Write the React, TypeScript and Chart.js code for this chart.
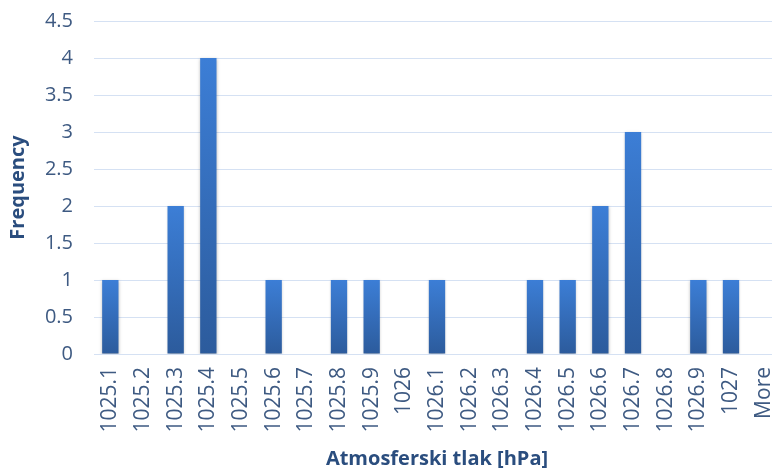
import React, { useEffect, useRef } from "react";
import { Chart, registerables } from "chart.js";

Chart.register(...registerables);

const categories = [
  "1025.1", "1025.2", "1025.3", "1025.4", "1025.5", "1025.6", "1025.7",
  "1025.8", "1025.9", "1026", "1026.1", "1026.2", "1026.3", "1026.4",
  "1026.5", "1026.6", "1026.7", "1026.8", "1026.9", "1027", "More",
];
const frequency = [1, 0, 2, 4, 0, 1, 0, 1, 1, 0, 1, 0, 0, 1, 1, 2, 3, 0, 1, 1, 0];
const yMax = 4.5;
const yStep = 0.5;
const xTitle = "Atmosferski tlak [hPa]";
const yTitle = "Frequency";

const TICK_COLOR = "#3e5a82";
const TITLE_COLOR = "#2a4d7e";
const FONT = "'Open Sans', 'Liberation Sans', sans-serif";

export default function App() {
  const ref = useRef<HTMLCanvasElement>(null);

  useEffect(() => {
    const canvas = ref.current!;
    const shadowPlugin = {
      id: "barShadow",
      beforeDatasetsDraw(chart: any) {
        const ctx = chart.ctx;
        ctx.save();
        ctx.shadowColor = "rgba(0,0,0,0.25)";
        ctx.shadowBlur = 3;
        ctx.shadowOffsetX = 0;
        ctx.shadowOffsetY = 1;
      },
      afterDatasetsDraw(chart: any) {
        chart.ctx.restore();
      },
    };

    const chart = new Chart(canvas, {
      type: "bar",
      data: {
        labels: categories,
        datasets: [
          {
            data: frequency,
            backgroundColor: (c: any) => {
              const ch = c.chart;
              const ys = ch.scales?.y;
              if (!ys || c.raw === undefined) return "#3572c4";
              const top = ys.getPixelForValue(c.raw);
              const bottom = ys.getPixelForValue(0);
              if (!isFinite(top) || !isFinite(bottom) || top === bottom) return "#3572c4";
              const g = ch.ctx.createLinearGradient(0, top, 0, bottom);
              g.addColorStop(0, "#3c7ed6");
              g.addColorStop(1, "#2c5b9c");
              return g;
            },
            borderWidth: 0,
            categoryPercentage: 1,
            barPercentage: 0.5,
          },
        ],
      },
      options: {
        animation: false,
        responsive: false,
        maintainAspectRatio: false,
        layout: { padding: { top: 21, left: 6, right: 0, bottom: 4 } },
        plugins: {
          legend: { display: false },
          tooltip: { enabled: false },
        },
        scales: {
          x: {
            grid: { display: false, drawTicks: false },
            border: { display: false },
            ticks: {
              color: TICK_COLOR,
              font: { family: FONT, size: 21 },
              minRotation: 90,
              maxRotation: 90,
              autoSkip: false,
              padding: 13,
            },
            title: {
              display: true,
              text: xTitle,
              color: TITLE_COLOR,
              font: { family: FONT, size: 20, weight: "bold" },
              padding: { top: 0, bottom: 0 },
            },
            afterFit: (s: any) => {
              s.height = 475 - 354 - 4;
              s.paddingLeft = 0;
              s.paddingRight = 0;
            },
          },
          y: {
            min: 0,
            max: yMax,
            ticks: {
              stepSize: yStep,
              color: TICK_COLOR,
              font: { family: FONT, size: 20 },
              padding: 21,
              callback: (v: any) => String(Number(v)),
            },
            grid: { color: "#d5e1f3", lineWidth: 1, drawTicks: false },
            border: { display: false },
            title: {
              display: true,
              text: yTitle,
              color: TITLE_COLOR,
              font: { family: FONT, size: 20, weight: "bold" },
              padding: { top: 0, bottom: 0 },
            },
            afterFit: (s: any) => {
              s.width = 94 - 6;
              s.paddingTop = 0;
              s.paddingBottom = 0;
            },
          },
        },
      },
      plugins: [shadowPlugin],
    });
    return () => chart.destroy();
  }, []);

  return (
    <div
      style={{
        position: "fixed",
        left: 0,
        top: 0,
        width: 772,
        height: 475,
        overflow: "hidden",
        background: "#ffffff",
      }}
    >
      <canvas ref={ref} width={780} height={475} style={{ display: "block" }} />
    </div>
  );
}
